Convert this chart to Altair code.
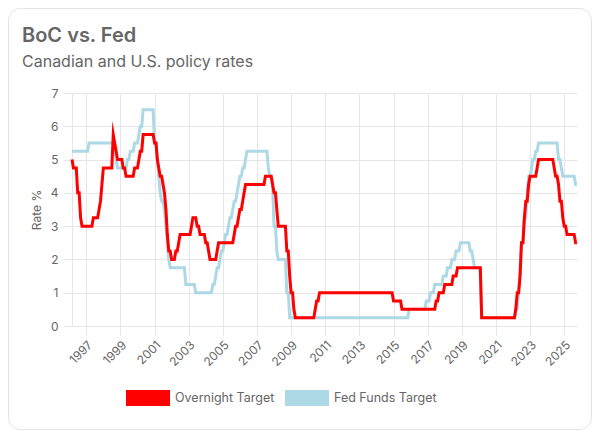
import altair as alt
import pandas as pd

# ---------------- data (monthly) ----------------
start_month = "1996-03-01"
series_names = ["Overnight Target", "Fed Funds Target"]
series_colors = ["#ff0000", "#add8e6"]
year_ticks = [1997, 1999, 2001, 2003, 2005, 2007, 2009, 2011, 2013,
              2015, 2017, 2019, 2021, 2023, 2025]
rate_ticks = [0, 1, 2, 3, 4, 5, 6, 7]

overnight_target = [
    5.0, 4.75, 4.75, 4.75, 4.0, 4.0, 3.25, 3.0, 3.0, 3.0,                 # 1996 Mar-Dec
    3.0, 3.0, 3.0, 3.0, 3.0, 3.25, 3.25, 3.25, 3.25, 3.5, 3.75, 4.25,     # 1997
    4.75, 4.75, 4.75, 4.75, 4.75, 4.75, 4.75, 5.75, 5.5, 5.25, 5.0, 5.0,  # 1998
    5.0, 5.0, 4.75, 4.75, 4.5, 4.5, 4.5, 4.5, 4.5, 4.5, 4.75, 4.75,       # 1999
    4.75, 5.0, 5.25, 5.25, 5.75, 5.75, 5.75, 5.75, 5.75, 5.75, 5.75, 5.75,  # 2000
    5.5, 5.5, 5.0, 4.75, 4.5, 4.5, 4.25, 4.0, 3.5, 2.75, 2.25, 2.25,      # 2001
    2.0, 2.0, 2.0, 2.25, 2.25, 2.5, 2.75, 2.75, 2.75, 2.75, 2.75, 2.75,   # 2002
    2.75, 2.75, 3.0, 3.25, 3.25, 3.25, 3.0, 3.0, 2.75, 2.75, 2.75, 2.75,  # 2003
    2.5, 2.5, 2.25, 2.0, 2.0, 2.0, 2.0, 2.0, 2.25, 2.5, 2.5, 2.5,         # 2004
    2.5, 2.5, 2.5, 2.5, 2.5, 2.5, 2.5, 2.5, 2.75, 3.0, 3.0, 3.25,         # 2005
    3.5, 3.5, 3.75, 4.0, 4.25, 4.25, 4.25, 4.25, 4.25, 4.25, 4.25, 4.25,  # 2006
    4.25, 4.25, 4.25, 4.25, 4.25, 4.25, 4.5, 4.5, 4.5, 4.5, 4.5, 4.25,    # 2007
    4.0, 4.0, 3.5, 3.0, 3.0, 3.0, 3.0, 3.0, 3.0, 2.25, 2.25, 1.5,         # 2008
    1.0, 1.0, 0.5, 0.25, 0.25, 0.25, 0.25, 0.25, 0.25, 0.25, 0.25, 0.25,  # 2009
    0.25, 0.25, 0.25, 0.25, 0.25, 0.5, 0.75, 0.75, 1.0, 1.0, 1.0, 1.0,    # 2010
    1.0, 1.0, 1.0, 1.0, 1.0, 1.0, 1.0, 1.0, 1.0, 1.0, 1.0, 1.0,           # 2011
    1.0, 1.0, 1.0, 1.0, 1.0, 1.0, 1.0, 1.0, 1.0, 1.0, 1.0, 1.0,           # 2012
    1.0, 1.0, 1.0, 1.0, 1.0, 1.0, 1.0, 1.0, 1.0, 1.0, 1.0, 1.0,           # 2013
    1.0, 1.0, 1.0, 1.0, 1.0, 1.0, 1.0, 1.0, 1.0, 1.0, 1.0, 1.0,           # 2014
    0.75, 0.75, 0.75, 0.75, 0.75, 0.75, 0.5, 0.5, 0.5, 0.5, 0.5, 0.5,     # 2015
    0.5, 0.5, 0.5, 0.5, 0.5, 0.5, 0.5, 0.5, 0.5, 0.5, 0.5, 0.5,           # 2016
    0.5, 0.5, 0.5, 0.5, 0.5, 0.5, 0.75, 0.75, 1.0, 1.0, 1.0, 1.0,         # 2017
    1.25, 1.25, 1.25, 1.25, 1.25, 1.25, 1.5, 1.5, 1.5, 1.75, 1.75, 1.75,  # 2018
    1.75, 1.75, 1.75, 1.75, 1.75, 1.75, 1.75, 1.75, 1.75, 1.75, 1.75, 1.75,  # 2019
    1.75, 1.75, 0.25, 0.25, 0.25, 0.25, 0.25, 0.25, 0.25, 0.25, 0.25, 0.25,  # 2020
    0.25, 0.25, 0.25, 0.25, 0.25, 0.25, 0.25, 0.25, 0.25, 0.25, 0.25, 0.25,  # 2021
    0.25, 0.25, 0.5, 1.0, 1.0, 1.5, 2.5, 2.5, 3.25, 3.75, 3.75, 4.25,     # 2022
    4.5, 4.5, 4.5, 4.5, 4.5, 4.75, 5.0, 5.0, 5.0, 5.0, 5.0, 5.0,          # 2023
    5.0, 5.0, 5.0, 5.0, 5.0, 4.75, 4.5, 4.5, 4.25, 3.75, 3.75, 3.25,      # 2024
    3.0, 3.0, 2.75, 2.75, 2.75, 2.75, 2.75, 2.75, 2.5, 2.5,               # 2025 Jan-Oct
]

fed_funds_target = [
    5.25, 5.25, 5.25, 5.25, 5.25, 5.25, 5.25, 5.25, 5.25, 5.25,           # 1996 Mar-Dec
    5.25, 5.25, 5.5, 5.5, 5.5, 5.5, 5.5, 5.5, 5.5, 5.5, 5.5, 5.5,         # 1997
    5.5, 5.5, 5.5, 5.5, 5.5, 5.5, 5.5, 5.5, 5.25, 5.0, 4.75, 4.75,        # 1998
    4.75, 4.75, 4.75, 4.75, 4.75, 5.0, 5.0, 5.25, 5.25, 5.25, 5.5, 5.5,   # 1999
    5.5, 5.75, 6.0, 6.0, 6.5, 6.5, 6.5, 6.5, 6.5, 6.5, 6.5, 6.5,          # 2000
    5.5, 5.5, 5.0, 4.5, 4.0, 3.75, 3.75, 3.5, 3.0, 2.5, 2.0, 1.75,        # 2001
    1.75, 1.75, 1.75, 1.75, 1.75, 1.75, 1.75, 1.75, 1.75, 1.75, 1.25, 1.25,  # 2002
    1.25, 1.25, 1.25, 1.25, 1.25, 1.0, 1.0, 1.0, 1.0, 1.0, 1.0, 1.0,      # 2003
    1.0, 1.0, 1.0, 1.0, 1.0, 1.25, 1.25, 1.5, 1.75, 1.75, 2.0, 2.25,      # 2004
    2.25, 2.5, 2.75, 2.75, 3.0, 3.25, 3.25, 3.5, 3.75, 3.75, 4.0, 4.25,   # 2005
    4.5, 4.5, 4.75, 4.75, 5.0, 5.25, 5.25, 5.25, 5.25, 5.25, 5.25, 5.25,  # 2006
    5.25, 5.25, 5.25, 5.25, 5.25, 5.25, 5.25, 5.25, 4.75, 4.5, 4.5, 4.25,  # 2007
    3.0, 3.0, 2.25, 2.0, 2.0, 2.0, 2.0, 2.0, 2.0, 1.0, 1.0, 0.25,         # 2008
    0.25, 0.25, 0.25, 0.25, 0.25, 0.25, 0.25, 0.25, 0.25, 0.25, 0.25, 0.25,  # 2009
    0.25, 0.25, 0.25, 0.25, 0.25, 0.25, 0.25, 0.25, 0.25, 0.25, 0.25, 0.25,  # 2010
    0.25, 0.25, 0.25, 0.25, 0.25, 0.25, 0.25, 0.25, 0.25, 0.25, 0.25, 0.25,  # 2011
    0.25, 0.25, 0.25, 0.25, 0.25, 0.25, 0.25, 0.25, 0.25, 0.25, 0.25, 0.25,  # 2012
    0.25, 0.25, 0.25, 0.25, 0.25, 0.25, 0.25, 0.25, 0.25, 0.25, 0.25, 0.25,  # 2013
    0.25, 0.25, 0.25, 0.25, 0.25, 0.25, 0.25, 0.25, 0.25, 0.25, 0.25, 0.25,  # 2014
    0.25, 0.25, 0.25, 0.25, 0.25, 0.25, 0.25, 0.25, 0.25, 0.25, 0.25, 0.5,   # 2015
    0.5, 0.5, 0.5, 0.5, 0.5, 0.5, 0.5, 0.5, 0.5, 0.5, 0.5, 0.75,          # 2016
    0.75, 0.75, 1.0, 1.0, 1.0, 1.25, 1.25, 1.25, 1.25, 1.25, 1.25, 1.5,   # 2017
    1.5, 1.5, 1.75, 1.75, 1.75, 2.0, 2.0, 2.0, 2.25, 2.25, 2.25, 2.5,     # 2018
    2.5, 2.5, 2.5, 2.5, 2.5, 2.5, 2.25, 2.25, 2.0, 1.75, 1.75, 1.75,      # 2019
    1.75, 1.75, 0.25, 0.25, 0.25, 0.25, 0.25, 0.25, 0.25, 0.25, 0.25, 0.25,  # 2020
    0.25, 0.25, 0.25, 0.25, 0.25, 0.25, 0.25, 0.25, 0.25, 0.25, 0.25, 0.25,  # 2021
    0.25, 0.25, 0.5, 0.5, 1.0, 1.75, 2.5, 2.5, 3.25, 3.25, 4.0, 4.5,      # 2022
    4.5, 4.75, 5.0, 5.0, 5.25, 5.25, 5.5, 5.5, 5.5, 5.5, 5.5, 5.5,        # 2023
    5.5, 5.5, 5.5, 5.5, 5.5, 5.5, 5.5, 5.5, 5.0, 5.0, 4.75, 4.5,          # 2024
    4.5, 4.5, 4.5, 4.5, 4.5, 4.5, 4.5, 4.5, 4.25, 4.25,                   # 2025 Jan-Oct
]

# ---------------- table ----------------
n = len(overnight_target)
dates = pd.date_range(start_month, periods=n, freq="MS").strftime("%Y-%m-%dT00:00:00")
df = pd.concat([
    pd.DataFrame({"date": dates, "rate": fed_funds_target, "series": series_names[1]}),
    pd.DataFrame({"date": dates, "rate": overnight_target, "series": series_names[0]}),
], ignore_index=True)

FONT = "Inter"
GRID = "#e6e6e6"
TEXT = "#666666"
PLOT_W, PLOT_H = 505, 233
PAD = {"left": 64, "top": 85, "right": 15, "bottom": 104}
LEGEND_Y = 283
LEGEND_X = [54, 213]


def make_legend(i):
    return alt.Legend(
        title=None, orient="none", legendX=LEGEND_X[i], legendY=LEGEND_Y,
        direction="horizontal",
        symbolType="M-1,-0.317L1,-0.317L1,0.317L-1,0.317Z", symbolSize=1681,
        symbolStrokeWidth=3, symbolFillColor=series_colors[i],
        symbolStrokeColor=series_colors[i],
        labelFont=FONT, labelFontSize=12.5, labelColor=TEXT,
        labelOffset=5, padding=0,
    )


x_enc = alt.X(
    "date:T", title=None,
    scale=alt.Scale(nice=False),
    axis=alt.Axis(
        values=[alt.DateTime(year=y, month=1, date=1) for y in year_ticks],
        format="%Y", labelAngle=-45, labelOverlap=False, labelBound=False,
        grid=True, gridColor=GRID, domain=False, ticks=True, tickColor=GRID,
        tickSize=9, labelPadding=4, labelFont=FONT, labelFontSize=12, labelColor=TEXT,
    ),
)
y_enc = alt.Y(
    "rate:Q", title="Rate %",
    scale=alt.Scale(domain=[0, 7], nice=False, zero=True),
    axis=alt.Axis(
        values=rate_ticks, grid=True, gridColor=GRID, domain=True, domainColor=GRID,
        ticks=True, tickColor=GRID, tickSize=9, labelPadding=5,
        labelFont=FONT, labelFontSize=12, labelColor=TEXT,
        titleFont=FONT, titleFontSize=12, titleFontWeight="normal", titleColor=TEXT,
        titlePadding=7,
    ),
)


def series_line(i):
    return alt.Chart(df).transform_filter(
        alt.datum.series == series_names[i]
    ).mark_line(
        strokeWidth=3, strokeJoin="miter", strokeMiterLimit=10, interpolate="linear"
    ).encode(
        x=x_enc, y=y_enc,
        color=alt.Color("series:N",
                        scale=alt.Scale(domain=[series_names[i]], range=[series_colors[i]]),
                        legend=make_legend(i)),
    )


fed = series_line(1)
boc = series_line(0)

card = alt.Chart(alt.Data(values=[{"card": 1}])).mark_rect(
    fill="transparent", stroke="#e2e2e2", strokeWidth=1, cornerRadius=12
).encode(
    x=alt.value(-PAD["left"] + 0.5), x2=alt.value(PLOT_W + PAD["right"] - 0.5),
    y=alt.value(-PAD["top"] + 0.5), y2=alt.value(PLOT_H + PAD["bottom"] - 0.5),
)

chart = alt.layer(card, fed, boc).resolve_scale(color="independent").properties(
    width=PLOT_W, height=PLOT_H,
    padding=PAD,
    autosize=alt.AutoSizeParams(type="none"),
    background="white",
    title=alt.TitleParams(
        text="BoC vs. Fed", subtitle="Canadian and U.S. policy rates",
        anchor="start", frame="group", dx=-50, offset=-62,
        font=FONT, fontSize=20, fontWeight=600, color=TEXT,
        subtitleFont=FONT, subtitleFontSize=16, subtitleColor=TEXT, subtitlePadding=8,
    ),
).configure_view(stroke=None)

chart.save("out.html", embed_options={"renderer": "svg", "actions": False})
